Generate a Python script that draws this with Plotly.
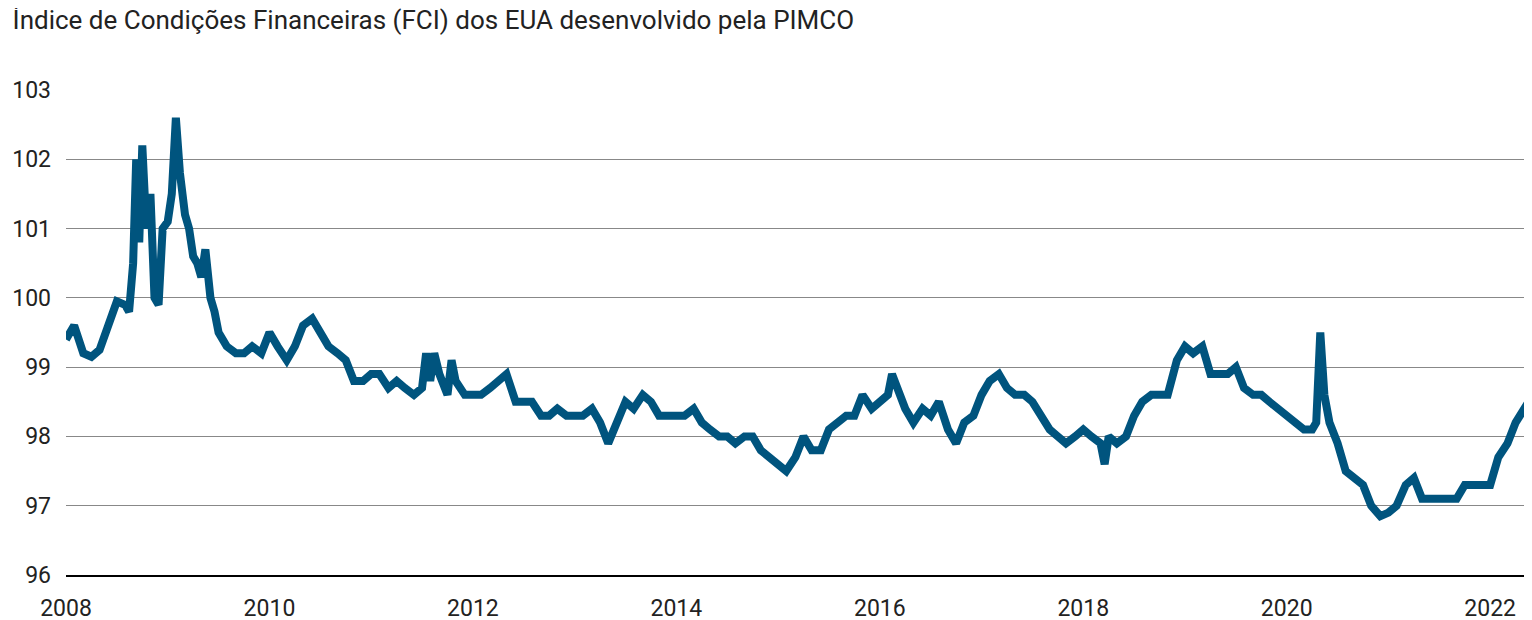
import plotly.graph_objects as go

t = [2008.00,2008.08,2008.17,2008.25,2008.33,2008.42,2008.50,2008.58,2008.62,2008.66,2008.69,2008.72,2008.75,2008.79,2008.83,2008.87,2008.91,2008.95,
2009.00,2009.04,2009.08,2009.12,2009.17,2009.21,2009.25,2009.29,2009.33,2009.37,2009.42,2009.46,2009.50,2009.58,2009.67,2009.75,2009.83,2009.92,
2010.00,2010.08,2010.17,2010.25,2010.33,2010.42,2010.50,2010.58,2010.67,2010.75,2010.83,2010.92,
2011.00,2011.08,2011.17,2011.25,2011.33,2011.42,2011.50,2011.54,2011.58,2011.62,2011.67,2011.75,2011.79,2011.83,2011.92,
2012.00,2012.08,2012.17,2012.25,2012.33,2012.42,2012.50,2012.58,2012.67,2012.75,2012.83,2012.92,
2013.00,2013.08,2013.17,2013.25,2013.33,2013.42,2013.50,2013.58,2013.67,2013.75,2013.83,2013.92,
2014.00,2014.08,2014.17,2014.25,2014.33,2014.42,2014.50,2014.58,2014.67,2014.75,2014.83,2014.92,
2015.00,2015.08,2015.17,2015.25,2015.33,2015.42,2015.50,2015.58,2015.67,2015.75,2015.83,2015.92,
2016.00,2016.08,2016.12,2016.17,2016.25,2016.33,2016.42,2016.50,2016.58,2016.67,2016.75,2016.83,2016.92,
2017.00,2017.08,2017.17,2017.25,2017.33,2017.42,2017.50,2017.58,2017.67,2017.75,2017.83,2017.92,
2018.00,2018.08,2018.17,2018.21,2018.25,2018.33,2018.42,2018.50,2018.58,2018.67,2018.75,2018.83,2018.92,
2019.00,2019.08,2019.17,2019.25,2019.33,2019.42,2019.50,2019.58,2019.67,2019.75,2019.83,2019.92,
2020.00,2020.08,2020.17,2020.25,2020.29,2020.33,2020.37,2020.42,2020.50,2020.58,2020.67,2020.75,2020.83,2020.92,
2021.00,2021.08,2021.17,2021.25,2021.33,2021.42,2021.50,2021.58,2021.67,2021.75,2021.83,2021.92,
2022.00,2022.08,2022.17,2022.25,2022.33,2022.42]
fci = [99.4,99.6,99.2,99.15,99.25,99.6,99.95,99.9,99.8,100.5,102.0,100.8,102.2,101.0,101.5,100.0,99.9,101.0,
101.1,101.5,102.6,101.8,101.2,101.0,100.6,100.5,100.3,100.7,100.0,99.8,99.5,99.3,99.2,99.2,99.3,99.2,
99.5,99.3,99.1,99.3,99.6,99.7,99.5,99.3,99.2,99.1,98.8,98.8,
98.9,98.9,98.7,98.8,98.7,98.6,98.7,99.2,98.8,99.2,98.9,98.6,99.1,98.8,98.6,
98.6,98.6,98.7,98.8,98.9,98.5,98.5,98.5,98.3,98.3,98.4,98.3,
98.3,98.3,98.4,98.2,97.9,98.2,98.5,98.4,98.6,98.5,98.3,98.3,
98.3,98.3,98.4,98.2,98.1,98.0,98.0,97.9,98.0,98.0,97.8,97.7,
97.6,97.5,97.7,98.0,97.8,97.8,98.1,98.2,98.3,98.3,98.6,98.4,
98.5,98.6,98.9,98.7,98.4,98.2,98.4,98.3,98.5,98.1,97.9,98.2,98.3,
98.6,98.8,98.9,98.7,98.6,98.6,98.5,98.3,98.1,98.0,97.9,98.0,
98.1,98.0,97.9,97.6,98.0,97.9,98.0,98.3,98.5,98.6,98.6,98.6,99.1,
99.3,99.2,99.3,98.9,98.9,98.9,99.0,98.7,98.6,98.6,98.5,98.4,
98.3,98.2,98.1,98.1,98.2,99.5,98.6,98.2,97.9,97.5,97.4,97.3,97.0,96.85,
96.9,97.0,97.3,97.4,97.1,97.1,97.1,97.1,97.1,97.3,97.3,97.3,
97.3,97.7,97.9,98.2,98.4,98.6]
years = list(range(2008, 2023, 2))
yticks = list(range(96, 104))

font = "Liberation Sans Narrow, Roboto, sans-serif"
fig = go.Figure(go.Scatter(x=t, y=fci, mode="lines",
                           line=dict(color="#00547e", width=8)))
fig.update_layout(
    width=1532, height=620, plot_bgcolor="white", paper_bgcolor="white",
    margin=dict(l=58, r=2, t=82, b=53, autoexpand=False), showlegend=False,
    font=dict(family=font, size=23, color="#222"),
    title=dict(text="Índice de Condições Financeiras (FCI) dos EUA desenvolvido pela PIMCO",
               x=0.003, xanchor="left", y=0.995, yanchor="top",
               font=dict(size=26, family=font, color="#222")),
)
fig.update_xaxes(range=[2008, 2022.47], tickvals=years, ticktext=[str(y) for y in years],
                 showgrid=False, showline=True, linecolor="black", linewidth=1.5,
                 ticks="", ticklabelstandoff=12, automargin=False)
fig.update_yaxes(range=[96, 103], tickvals=yticks, showgrid=True, gridcolor="#888",
                 gridwidth=1, zeroline=False, ticks="", ticklabelstandoff=14, automargin=False)
fig.write_html("out.html")
